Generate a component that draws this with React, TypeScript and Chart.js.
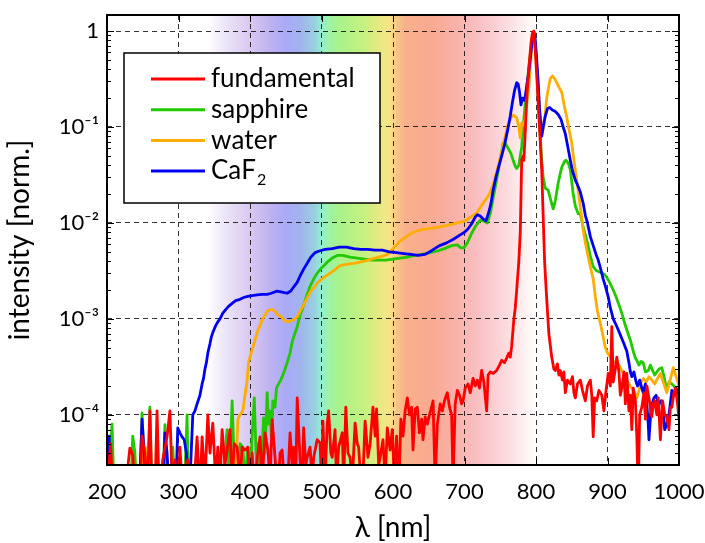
import React, { useEffect, useRef } from 'react';
import { Chart, registerables } from 'chart.js';
Chart.register(...registerables);

// ---------- data ----------
const SERIES_NAMES = ['fundamental', 'sapphire', 'water', 'CaF₂'];
const SERIES_COLORS = ['#ff0000', '#22c800', '#ffad00', '#0000f0'];

const X_TICKS = [200, 300, 400, 500, 600, 700, 800, 900, 1000];
const Y_TICKS = [1e-4, 1e-3, 1e-2, 1e-1, 1];
const Y_TICK_LABELS = ['10⁻⁴', '10⁻³', '10⁻²', '10⁻¹', '1'];
const X_TITLE = 'λ [nm]';
const Y_TITLE = 'intensity [norm.]';

const fundamentalNm = [200,205,208,225,232,236,240,246,249,253,256,260,263,268,270,273,278,284,288,291,295,299,302,306,313,318,322,326,330,333,337,341,344,348,352,355,358,361,365,368,372,375,378,382,386,389,393,397,400,403,407,410,414,417,421,425,428,431,435,439,442,445,449,452,456,459,461,464,466,470,473,475,478,480,484,487,489,494,498,500,502,505,508,510,513,515,519,521,524,529,531,534,537,540,543,547,550,552,555,557,561,565,568,572,575,577,580,582,586,589,592,596,599,602,605,608,611,614,617,620,623,626,628,631,634,637,640,642,645,648,651,654,656,659,662,666,669,672,676,679,682,684,687,690,693,696,698,701,705,708,712,715,718,721,724,727,731,733,736,740,745,749,752,756,759,762,764,766,769,771,773,776,778,780,782,783,785,787,789,791,793,795,797,799,801,803,806,808,810,812,815,818,822,825,827,830,832,834,837,839,841,844,848,851,853,855,858,862,865,869,872,876,878,880,882,885,888,892,895,898,901,904,906,908,911,913,916,918,920,923,925,927,930,932,934,936,939,941,943,945,948,951,953,955,958,962,964,966,969,971,974,977,980,983,986,988,990,993,995,998,1000];
const fundamentalI = [1.5e-5,5e-5,1.5e-5,1.5e-5,4.5e-5,3.8e-5,1.5e-5,1.5e-5,6e-5,4e-5,1.5e-5,1.1e-4,1.5e-5,3e-5,1.1e-4,1.5e-5,3.4e-5,5.9e-5,1.1e-4,2e-5,3.4e-5,1.5e-5,4.6e-5,1.5e-5,3.4e-5,1.5e-5,2e-5,5.9e-5,1.5e-5,5.9e-5,2e-5,1.0e-4,4e-5,8.2e-5,2e-5,4.6e-5,2e-5,7e-5,3e-5,4.3e-5,7e-5,2e-5,5e-5,4.6e-5,2e-5,4.6e-5,4.3e-5,4.6e-5,1.5e-5,4e-5,1.5e-5,3.5e-5,5.9e-5,2e-5,6.5e-5,4.3e-5,2e-5,8.9e-5,3.6e-5,1.5e-5,4e-5,4.3e-5,1.5e-5,1.5e-5,6.5e-5,3e-5,4.6e-5,2e-5,1.5e-4,3.4e-5,2e-5,7.3e-5,3e-5,3.6e-5,4.6e-5,2e-5,3.6e-5,5.5e-5,5.1e-5,2e-5,8.6e-5,2e-5,8.2e-5,1.1e-4,4e-5,3.6e-5,7e-5,2e-5,4.6e-5,6.5e-5,2e-5,1.2e-4,4e-5,3.6e-5,2e-5,8.2e-5,5e-5,4.6e-5,2e-5,1.5e-5,8.6e-5,3.6e-5,5e-5,1.2e-4,6e-5,1.15e-4,3e-5,3.6e-5,5.5e-5,2e-5,7.3e-5,4.3e-5,7e-5,2e-5,6e-5,1.5e-5,9e-5,6e-5,1.1e-4,1.5e-4,1.0e-4,1.2e-4,4.3e-5,1.15e-4,1.2e-4,6.5e-5,9e-5,5.5e-5,9.5e-5,8e-5,1.0e-4,1.2e-4,1.4e-4,2e-5,8e-5,1.3e-4,1.1e-4,1.4e-4,1.7e-4,1.2e-4,1.0e-4,2e-5,1.3e-4,1.8e-4,1.6e-4,1.3e-4,1.4e-4,1.9e-4,2.1e-4,1.7e-4,2.4e-4,2.0e-4,2.3e-4,1.9e-4,2.9e-4,2.2e-4,1.1e-4,2.6e-4,2.8e-4,2.7e-4,2.9e-4,3.3e-4,3.7e-4,3.5e-4,3.9e-4,4.4e-4,4.0e-4,5.2e-4,9.8e-4,1.3e-3,2.0e-3,4.0e-3,8e-3,0.045,0.05,0.045,0.09,0.2,0.33,0.5,0.75,0.95,1.0,0.62,0.35,0.18,0.07,0.036,0.012,4e-3,1.6e-3,7e-4,4e-4,3e-4,2.9e-4,3.4e-4,2.6e-4,2.9e-4,2.3e-4,2.8e-4,1.7e-4,2.3e-4,2.1e-4,2.5e-4,1.7e-4,1.5e-4,2.1e-4,2.3e-4,1.8e-4,1.4e-4,2.0e-4,2.3e-4,1.6e-4,5.9e-5,1.5e-4,1.4e-4,1.8e-4,1.6e-4,1.1e-4,1.8e-4,2.7e-4,2.0e-4,8.3e-4,2.2e-4,3.0e-4,4.0e-4,2.8e-4,1.6e-4,1.9e-4,2.8e-4,1.3e-4,2.7e-4,1.1e-4,1.6e-4,7e-5,1.9e-4,1.4e-4,6e-5,1.5e-5,1.0e-4,1.2e-4,1.7e-4,9e-5,2.0e-4,1.5e-4,9.5e-5,1.3e-4,1.4e-4,1.0e-4,1.5e-4,5.5e-5,1.4e-4,1.0e-4,9.5e-5,7e-5,1.2e-4,1.2e-4,1.7e-4,1.9e-4,1.3e-4,9e-5];

const sapphireNm = [200,204,207,210,233,236,239,242,246,249,252,255,258,260,263,278,281,284,287,290,292,295,308,312,314,360,365,368,371,375,378,382,386,390,393,397,400,403,406,409,412,415,419,421,424,426,428,430,432,435,437,440,443,446,449,452,456,459,462,466,470,473,475,480,484,489,494,500,508,515,523,530,540,550,560,570,580,590,600,610,620,630,640,652,662,672,682,690,695,699,704,710,716,722,727,732,736,740,744,748,751,754,757,761,765,768,771,773,776,778,780,782,785,788,790,793,795,797,799,801,803,806,808,810,813,817,820,824,827,831,834,836,840,842,845,848,850,852,855,859,862,866,869,872,876,880,884,888,892,896,899,903,908,912,916,920,924,928,932,936,939,941,944,947,950,953,957,960,963,966,969,972,976,979,983,986,990,993,996,1000];
const sapphireI = [1.5e-5,3e-5,8e-5,1.5e-5,1.5e-5,6e-5,4e-5,1.5e-5,1.5e-5,1.05e-4,3e-5,1.5e-5,3e-5,1.2e-4,1.5e-5,1.5e-5,7.9e-5,3e-5,1.5e-5,2e-5,4.6e-5,1.5e-5,1.5e-5,1.0e-4,1.5e-5,1.5e-5,4e-5,7e-5,2e-5,1.4e-4,3e-5,2e-5,5e-5,4.6e-5,2e-5,4.6e-5,2e-5,6e-5,1.5e-4,3e-5,5.1e-5,2e-5,9.3e-5,4e-5,1.7e-4,8e-5,1.1e-4,6e-5,1.4e-4,1.2e-4,1.9e-4,2.1e-4,2.3e-4,2.6e-4,3.0e-4,3.5e-4,4.4e-4,5.8e-4,6.8e-4,8.3e-4,1.1e-3,1.25e-3,1.4e-3,1.8e-3,2.2e-3,2.6e-3,3.0e-3,3.4e-3,3.9e-3,4.3e-3,4.6e-3,4.6e-3,4.4e-3,4.3e-3,4.2e-3,4.1e-3,4.1e-3,4.1e-3,4.2e-3,4.3e-3,4.4e-3,4.6e-3,4.7e-3,4.9e-3,5.1e-3,5.4e-3,5.8e-3,5.9e-3,5.5e-3,5.5e-3,6.2e-3,7.8e-3,9.4e-3,1.07e-2,1.05e-2,1.0e-2,1.25e-2,1.8e-2,2.6e-2,3.8e-2,5.0e-2,6.8e-2,6.8e-2,6.0e-2,5.3e-2,4.5e-2,3.9e-2,3.7e-2,4.0e-2,5.0e-2,6.2e-2,0.1,0.18,0.3,0.42,0.65,0.9,0.99,0.75,0.42,0.2,0.08,0.045,0.03,0.023,0.022,0.018,0.014,0.017,0.026,0.033,0.038,0.044,0.045,0.042,0.036,0.027,0.02,0.015,0.0125,0.0125,0.009,0.0075,0.0062,0.0045,0.0035,0.0032,0.0031,0.003,0.0029,0.0027,0.0024,0.002,0.0017,0.0014,0.00115,9e-4,7.3e-4,6e-4,4.6e-4,3.9e-4,3.7e-4,3.3e-4,3.6e-4,3.5e-4,2.8e-4,2.9e-4,3.3e-4,2.9e-4,2.6e-4,2.8e-4,3.0e-4,3.1e-4,2.5e-4,1.8e-4,2.2e-4,2.1e-4,2.0e-4,1.8e-4,1.7e-4];

const waterNm = [200,201,203,246,249,252,256,258,374,377,380,383,386,390,393,396,398,403,407,410,414,417,421,424,428,431,435,439,444,449,453,456,461,466,470,475,480,484,490,495,503,512,520,526,535,545,554,565,575,585,592,598,604,610,620,628,640,652,666,680,690,698,705,712,717,722,727,732,736,740,744,748,752,756,760,764,767,770,773,776,778,780,782,785,788,790,793,795,797,799,801,803,806,809,811,813,815,818,820,823,826,829,832,836,840,843,846,850,853,857,860,862,866,869,872,876,880,883,886,890,894,897,901,904,908,913,917,922,927,932,936,941,944,947,950,954,958,962,966,970,974,978,983,987,992,996,1000];
const waterI = [1.5e-5,5.7e-5,1.5e-5,1.5e-5,8.5e-5,2e-5,4.5e-5,1.5e-5,1.5e-5,4e-5,2e-5,9e-5,1.0e-4,1.1e-4,1.6e-4,2.3e-4,3.5e-4,4.8e-4,6e-4,7.2e-4,8.5e-4,9.8e-4,1.1e-3,1.2e-3,1.25e-3,1.25e-3,1.2e-3,1.1e-3,1.05e-3,9.5e-4,9.3e-4,9.5e-4,9.8e-4,1.05e-3,1.2e-3,1.4e-3,1.65e-3,1.9e-3,2.15e-3,2.4e-3,2.7e-3,3.0e-3,3.3e-3,3.6e-3,3.7e-3,3.8e-3,3.9e-3,4.1e-3,4.3e-3,4.5e-3,4.7e-3,5.2e-3,5.8e-3,6.5e-3,7.3e-3,8.0e-3,8.5e-3,8.8e-3,9.1e-3,9.6e-3,1.0e-2,1.03e-2,1.1e-2,1.2e-2,1.27e-2,1.45e-2,1.65e-2,1.85e-2,2.1e-2,2.5e-2,3.2e-2,4.2e-2,5.6e-2,7.5e-2,0.1,0.12,0.133,0.13,0.125,0.1,0.077,0.11,0.105,0.12,0.2,0.26,0.55,0.85,0.98,0.75,0.45,0.25,0.13,0.088,0.1,0.14,0.2,0.27,0.32,0.34,0.32,0.29,0.26,0.23,0.16,0.127,0.095,0.068,0.045,0.028,0.019,0.0147,0.0085,0.0062,0.0048,0.0035,0.0026,0.0017,0.0012,9e-4,6.5e-4,5e-4,4.3e-4,4.0e-4,3.6e-4,3.5e-4,3.2e-4,2.7e-4,2.3e-4,2.0e-4,1.8e-4,1.5e-4,1.8e-4,2.2e-4,2.4e-4,2.2e-4,2.5e-4,2.3e-4,2.1e-4,2.4e-4,2.7e-4,2.2e-4,1.7e-4,2.2e-4,3.1e-4,2.5e-4,2.0e-4];

const caf2Nm = [200,203,205,245,249,252,255,278,281,284,287,296,299,302,305,308,311,314,317,320,323,326,330,333,335,337,339,341,344,346,348,352,355,358,362,366,370,375,380,386,392,397,403,410,417,424,430,438,445,452,457,462,466,470,475,480,485,491,497,505,515,525,535,545,555,565,575,585,595,605,615,625,635,645,655,665,675,685,694,700,705,710,715,718,722,726,730,734,737,740,744,748,752,756,760,764,767,770,773,775,777,779,781,783,785,788,790,793,795,797,799,801,803,805,808,810,813,816,819,823,827,831,835,838,841,844,848,851,855,859,862,866,869,872,876,880,884,887,891,894,897,901,904,908,911,915,919,923,927,930,932,934,937,940,942,945,948,950,953,955,957,958,961,965,968,971,975,978,980,983,986,990,993,996,1000];
const caf2I = [1.5e-5,6e-5,1.5e-5,1.5e-5,9e-5,4e-5,1.5e-5,1.5e-5,6.5e-5,4e-5,1.5e-5,1.5e-5,7.3e-5,6.5e-5,5.9e-5,5.5e-5,4e-5,1.5e-5,3e-5,1.0e-4,1.1e-4,1.3e-4,1.6e-4,2.1e-4,2.4e-4,3.0e-4,3.5e-4,4.4e-4,5.5e-4,6.5e-4,7.2e-4,8.5e-4,9.3e-4,1.0e-3,1.15e-3,1.25e-3,1.35e-3,1.45e-3,1.55e-3,1.6e-3,1.68e-3,1.72e-3,1.75e-3,1.78e-3,1.8e-3,1.8e-3,1.85e-3,1.95e-3,1.9e-3,1.85e-3,1.95e-3,2.2e-3,2.4e-3,2.8e-3,3.3e-3,3.8e-3,4.4e-3,4.9e-3,5.1e-3,5.3e-3,5.4e-3,5.6e-3,5.6e-3,5.4e-3,5.3e-3,5.3e-3,5.2e-3,5.2e-3,5.0e-3,4.9e-3,4.8e-3,4.7e-3,4.6e-3,4.7e-3,5.2e-3,5.8e-3,6.2e-3,6.8e-3,7.5e-3,8.0e-3,8.7e-3,9.8e-3,1.15e-2,1.22e-2,1.18e-2,1.1e-2,1.05e-2,1.3e-2,1.6e-2,2.2e-2,3.0e-2,3.9e-2,5.0e-2,6.5e-2,9.0e-2,0.13,0.18,0.24,0.29,0.28,0.23,0.17,0.2,0.19,0.21,0.3,0.38,0.6,0.85,0.98,0.8,0.5,0.3,0.15,0.08,0.1,0.13,0.155,0.16,0.15,0.145,0.135,0.12,0.1,0.085,0.065,0.045,0.035,0.028,0.024,0.021,0.016,0.012,0.01,0.0072,0.0058,0.0047,0.0041,0.0032,0.0026,0.0022,0.0017,0.0013,0.001,9e-4,7.7e-4,6.5e-4,5.5e-4,4.6e-4,3.5e-4,2.8e-4,2.5e-4,2.8e-4,2.2e-4,2.0e-4,2.3e-4,1.9e-4,1.7e-4,2.1e-4,1.3e-4,8e-5,5.5e-5,1.2e-4,1.5e-4,1.6e-4,1.3e-4,1.4e-4,1.1e-4,7e-5,8e-5,1.0e-4,1.8e-4,1.6e-4,1.9e-4,1.6e-4];

const SERIES_NM = [fundamentalNm, sapphireNm, waterNm, caf2Nm];
const SERIES_I = [fundamentalI, sapphireI, waterI, caf2I];
const SERIES_ORDER = [0, 3, 2, 1];

// ---------- styling ----------
const FONT = 'Lato, "Open Sans", "DejaVu Sans", sans-serif';
const SUB_DIGITS = '₀₁₂₃₄₅₆₇₈₉';
const SPECTRUM_START = 340;
const SPECTRUM_END = 800;
const SPECTRUM_STOPS: [number, string][] = [
  [340, '#ffffff'], [365, '#ede5f8'], [400, '#d8c8f1'], [430, '#bdb1f1'], [450, '#aaaaf7'],
  [470, '#a2b2ee'], [490, '#98cfe1'], [500, '#8ff0d0'], [510, '#9ff2a8'], [525, '#a8f38a'],
  [560, '#c6f180'], [580, '#e6ea82'], [595, '#f7e386'], [606, '#f8c486'], [618, '#f9af8b'],
  [655, '#f9aa92'], [690, '#f9b2ac'], [720, '#f9c0c4'], [760, '#fcdcdf'], [790, '#fff6f6'], [800, '#ffffff'],
];

function drawWithSubscripts(ctx: CanvasRenderingContext2D, text: string, x: number, y: number, size: number) {
  let cx = x;
  for (const ch of text) {
    const si = SUB_DIGITS.indexOf(ch);
    if (si >= 0) {
      ctx.font = `${Math.round(size * 0.62)}px ${FONT}`;
      ctx.fillText(String(si), cx + 1, y + size * 0.32);
      cx += ctx.measureText(String(si)).width + 1;
    } else {
      ctx.font = `${size}px ${FONT}`;
      ctx.fillText(ch, cx, y);
      cx += ctx.measureText(ch).width;
    }
  }
}

export default function App() {
  const ref = useRef<HTMLCanvasElement>(null);
  useEffect(() => {
    const canvas = ref.current!;

    const spectrumBg = {
      id: 'spectrumBg',
      beforeDraw(chart: any) {
        const { ctx, chartArea } = chart;
        const xs = chart.scales.x;
        const x1 = xs.getPixelForValue(SPECTRUM_START);
        const x2 = xs.getPixelForValue(SPECTRUM_END);
        const g = ctx.createLinearGradient(x1, 0, x2, 0);
        SPECTRUM_STOPS.forEach(([nm, c]) => g.addColorStop((nm - SPECTRUM_START) / (SPECTRUM_END - SPECTRUM_START), c));
        ctx.save();
        ctx.fillStyle = '#ffffff';
        ctx.fillRect(chartArea.left, chartArea.top, chartArea.right - chartArea.left, chartArea.bottom - chartArea.top);
        ctx.fillStyle = g;
        ctx.fillRect(x1, chartArea.top, x2 - x1, chartArea.bottom - chartArea.top);
        ctx.restore();
      },
    };

    const frame = {
      id: 'frame',
      afterDatasetsDraw(chart: any) {
        const { ctx, chartArea: a } = chart;
        const xs = chart.scales.x;
        const ys = chart.scales.y;
        ctx.save();
        ctx.strokeStyle = '#000';
        ctx.lineWidth = 1;
        ctx.beginPath();
        for (let d = -5; d <= 0; d++) {
          for (let k = 1; k <= 9; k++) {
            const v = k * Math.pow(10, d);
            if (v < ys.min || v > ys.max) continue;
            const py = Math.round(ys.getPixelForValue(v)) + 0.5;
            const len = k === 1 ? 7 : 4;
            ctx.moveTo(a.left, py); ctx.lineTo(a.left + len, py);
            ctx.moveTo(a.right, py); ctx.lineTo(a.right - len, py);
          }
        }
        X_TICKS.forEach((t) => {
          const px = Math.round(xs.getPixelForValue(t)) + 0.5;
          ctx.moveTo(px, a.bottom); ctx.lineTo(px, a.bottom - 7);
          ctx.moveTo(px, a.top); ctx.lineTo(px, a.top + 7);
        });
        ctx.stroke();
        ctx.lineWidth = 2;
        ctx.strokeRect(a.left, a.top, a.right - a.left, a.bottom - a.top);
        ctx.restore();
      },
    };

    const legendBox = {
      id: 'legendBox',
      afterDraw(chart: any) {
        const { ctx, chartArea: a } = chart;
        const bx = a.left + 17, by = a.top + 38, bw = 256, bh = 150;
        ctx.save();
        ctx.fillStyle = '#fff';
        ctx.fillRect(bx, by, bw, bh);
        ctx.strokeStyle = '#000';
        ctx.lineWidth = 1.5;
        ctx.strokeRect(bx, by, bw, bh);
        SERIES_NAMES.forEach((name, i) => {
          const cy = by + 26 + i * 30.7;
          ctx.strokeStyle = SERIES_COLORS[i];
          ctx.lineWidth = 3;
          ctx.beginPath();
          ctx.moveTo(bx + 27, cy); ctx.lineTo(bx + 81, cy);
          ctx.stroke();
          ctx.fillStyle = '#000';
          ctx.textBaseline = 'middle';
          ctx.textAlign = 'left';
          drawWithSubscripts(ctx, name, bx + 87, cy, 26);
        });
        ctx.restore();
      },
    };

    const chart = new Chart(canvas, {
      type: 'line',
      data: {
        datasets: SERIES_NAMES.map((name, i) => ({
          label: name,
          data: SERIES_NM[i].map((x, j) => ({ x, y: SERIES_I[i][j] })),
          borderColor: SERIES_COLORS[i],
          backgroundColor: SERIES_COLORS[i],
          borderWidth: 2.8,
          pointRadius: 0,
          tension: 0,
          fill: false,
          order: SERIES_ORDER[i],
          borderJoinStyle: 'round' as const,
        })),
      },
      options: {
        responsive: false,
        animation: false,
        devicePixelRatio: 1,
        layout: { padding: { top: 15, right: 26, left: 0, bottom: 0 } },
        plugins: { legend: { display: false }, tooltip: { enabled: false } },
        scales: {
          x: {
            type: 'linear',
            min: 200,
            max: 1000,
            afterBuildTicks: (s: any) => { s.ticks = X_TICKS.map((v) => ({ value: v })); },
            afterFit: (s: any) => { s.height = 78; s.paddingLeft = 0; s.paddingRight = 0; s.paddingTop = 0; s.paddingBottom = 0; },
            ticks: { color: '#000', font: { family: FONT, size: 22 }, padding: 14, maxRotation: 0, callback: (v: any) => String(v) },
            grid: { color: 'rgba(0,0,0,0.8)', lineWidth: 1, drawTicks: false },
            border: { display: false, dash: [5, 4] },
            title: { display: true, text: X_TITLE, color: '#000', font: { family: FONT, size: 28, lineHeight: 1 }, padding: { top: 0, bottom: 1 } },
          },
          y: {
            type: 'logarithmic',
            min: 3e-5,
            max: 1.47,
            afterBuildTicks: (s: any) => { s.ticks = Y_TICKS.map((v) => ({ value: v })); },
            afterFit: (s: any) => { s.width = 107; s.paddingLeft = 0; s.paddingRight = 0; s.paddingTop = 0; s.paddingBottom = 0; },
            ticks: {
              color: '#000',
              font: { family: FONT, size: 22 },
              padding: 8,
              callback: (v: any) => Y_TICK_LABELS[Y_TICKS.findIndex((t) => Math.abs(t - v) / t < 1e-6)] ?? '',
            },
            grid: { color: 'rgba(0,0,0,0.8)', lineWidth: 1, drawTicks: false },
            border: { display: false, dash: [5, 4] },
            title: { display: true, text: Y_TITLE, color: '#000', font: { family: FONT, size: 28, lineHeight: 1 }, padding: { top: 6, bottom: 0 } },
          },
        },
      },
      plugins: [spectrumBg, frame, legendBox],
    } as any);
    return () => chart.destroy();
  }, []);

  return (
    <div style={{ position: 'absolute', left: 0, top: 0, width: 705, height: 543, background: '#fff' }}>
      <canvas ref={ref} width={705} height={543} style={{ display: 'block', width: 705, height: 543 }} />
    </div>
  );
}
